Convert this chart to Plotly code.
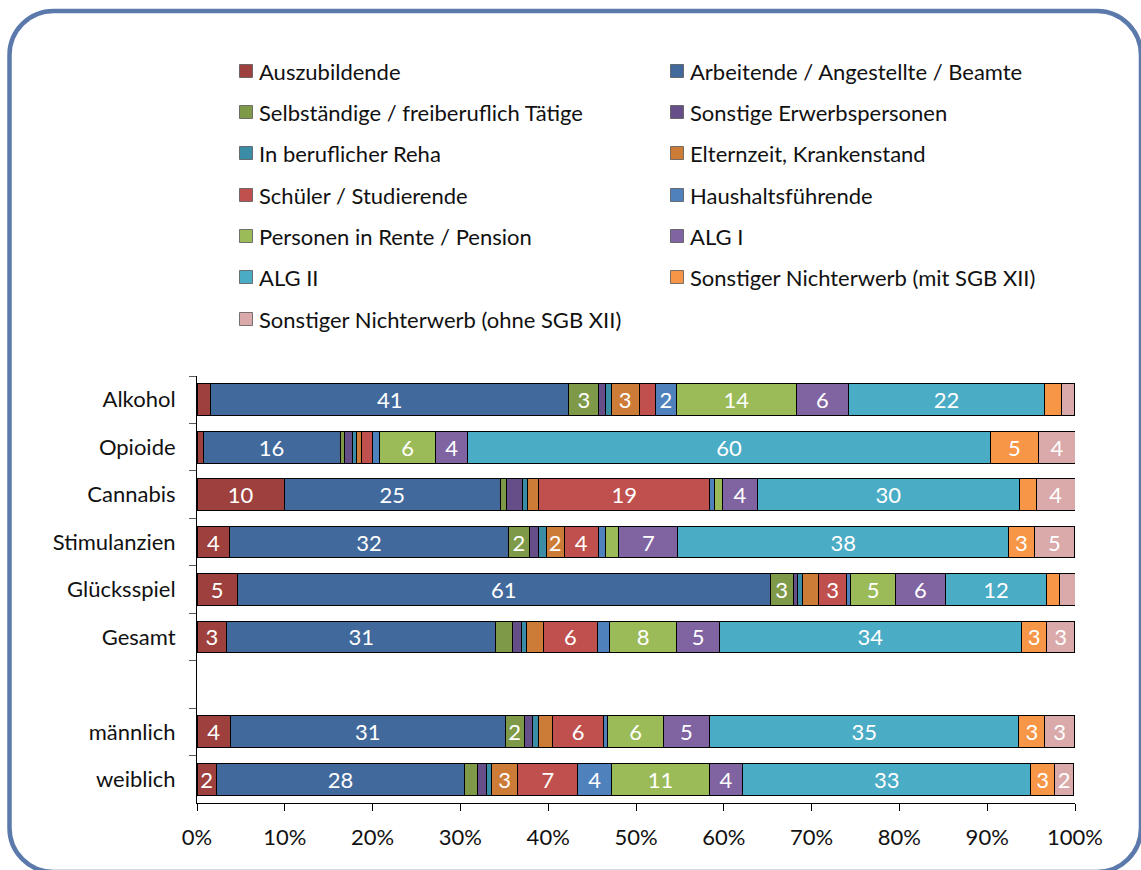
import plotly.graph_objects as go

# ---------------- data ----------------
groups = ["Alkohol", "Opioide", "Cannabis", "Stimulanzien", "Glücksspiel",
          "Gesamt", " ", "männlich", "weiblich"]

series_names = [
    "Auszubildende",
    "Arbeitende / Angestellte / Beamte",
    "Selbständige / freiberuflich Tätige",
    "Sonstige Erwerbspersonen",
    "In beruflicher Reha",
    "Elternzeit, Krankenstand",
    "Schüler / Studierende",
    "Haushaltsführende",
    "Personen in Rente / Pension",
    "ALG I",
    "ALG II",
    "Sonstiger Nichterwerb (mit SGB XII)",
    "Sonstiger Nichterwerb (ohne SGB XII)",
]

auszubildende = [1.56, 0.7, 9.95, 3.75, 4.6, 3.4, None, 3.8, 2.2]
arbeitende    = [40.8, 15.6, 24.6, 31.7, 60.7, 30.6, None, 31.3, 28.3]
selbstaendige = [3.4, 0.55, 0.7, 2.4, 2.6, 1.9, None, 2.15, 1.5]
sonst_erwerb  = [0.76, 0.85, 1.8, 1.05, 0.55, 1.05, None, 1.0, 1.0]
reha          = [0.65, 0.45, 0.55, 0.85, 0.55, 0.6, None, 0.7, 0.55]
elternzeit    = [3.2, 0.55, 1.35, 2.05, 1.8, 1.9, None, 1.5, 3.0]
schueler      = [1.85, 1.3, 19.4, 3.9, 3.2, 6.15, None, 5.9, 6.8]
haushalt      = [2.35, 0.75, 0.55, 0.85, 0.4, 1.35, None, 0.45, 3.9]
rente         = [13.7, 6.45, 0.95, 1.5, 5.2, 7.7, None, 6.3, 11.1]
alg1          = [5.9, 3.6, 4.0, 6.7, 5.6, 4.85, None, 5.3, 3.8]
alg2          = [22.4, 59.6, 29.8, 37.7, 11.6, 34.4, None, 35.2, 32.8]
ne_mit        = [1.85, 5.4, 1.95, 2.9, 1.4, 2.9, None, 2.96, 2.7]
ne_ohne       = [1.5, 4.3, 4.4, 4.6, 1.8, 3.1, None, 3.4, 2.2]

series_values = [auszubildende, arbeitende, selbstaendige, sonst_erwerb, reha,
                 elternzeit, schueler, haushalt, rente, alg1, alg2, ne_mit, ne_ohne]

x_tickvals = [0, 10, 20, 30, 40, 50, 60, 70, 80, 90, 100]
x_ticktext = ["0%", "10%", "20%", "30%", "40%", "50%", "60%", "70%", "80%",
              "90%", "100%"]

# ---------------- style ----------------
colors = ["#9E413E", "#41699C", "#7E9A48", "#664E88", "#3A8DA5", "#CD7C37",
          "#C0504D", "#4F81BD", "#9BBB59", "#8064A2", "#4BACC6", "#F79646",
          "#D9AAA9"]

FONT = "Lato"
FS = 22
W, H = 1141, 870
ML, MR, MT, MB = 197, 66, 376, 67
PW, PH = W - ML - MR, H - MT - MB


def px(x):
    return (x - ML) / PW


def py(y):
    return (H - MB - y) / PH


fig = go.Figure()
for name, vals, col in zip(series_names, series_values, colors):
    txt = [str(int(v + 0.5)) if (v is not None and v >= 2) else "" for v in vals]
    fig.add_trace(go.Bar(
        y=groups, x=vals, orientation="h", name=name,
        marker=dict(color=col, line=dict(color="black", width=1)),
        text=txt, textposition="inside", insidetextanchor="middle",
        textangle=0, textfont=dict(color="white", size=FS, family=FONT),
        showlegend=False,
    ))

shapes = []
annotations = []

# custom two-column legend
row_y = [71, 112, 153, 195, 236, 277, 319]
col_sq = [239.5, 670.5]
col_tx = [257, 688]
sq = 13
for i, (name, col) in enumerate(zip(series_names, colors)):
    r, c = divmod(i, 2)
    yc = row_y[r]
    shapes.append(dict(type="rect", xref="paper", yref="paper",
                       x0=px(col_sq[c]), x1=px(col_sq[c] + sq),
                       y0=py(yc - sq / 2), y1=py(yc + sq / 2),
                       fillcolor=col, line=dict(color="#555555", width=0.8)))
    annotations.append(dict(x=px(col_tx[c]), y=py(yc), xref="paper", yref="paper",
                            text=name, showarrow=False, xanchor="left",
                            yanchor="middle",
                            font=dict(family=FONT, size=FS, color="#111111")))

# rounded frame
x1, y1, x2, y2, rr = 9.5, 11, 1141, 872, 44
k = 0.5523 * rr


def P(x, y):
    return f"{px(x):.6f},{py(y):.6f}"


path = (f"M {P(x1 + rr, y1)} L {P(x2 - rr, y1)} "
        f"C {P(x2 - rr + k, y1)} {P(x2, y1 + rr - k)} {P(x2, y1 + rr)} "
        f"L {P(x2, y2 - rr)} "
        f"C {P(x2, y2 - rr + k)} {P(x2 - rr + k, y2)} {P(x2 - rr, y2)} "
        f"L {P(x1 + rr, y2)} "
        f"C {P(x1 + rr - k, y2)} {P(x1, y2 - rr + k)} {P(x1, y2 - rr)} "
        f"L {P(x1, y1 + rr)} "
        f"C {P(x1, y1 + rr - k)} {P(x1 + rr - k, y1)} {P(x1 + rr, y1)} Z")
shapes.append(dict(type="path", xref="paper", yref="paper", path=path,
                   line=dict(color="#5B7AAB", width=4.5), fillcolor="rgba(0,0,0,0)"))

fig.update_layout(
    barmode="stack", bargap=0.33,
    width=W, height=H,
    margin=dict(l=ML, r=MR, t=MT, b=MB, autoexpand=False),
    plot_bgcolor="white", paper_bgcolor="white",
    uniformtext=dict(minsize=FS, mode="show"),
    shapes=shapes, annotations=annotations,
    font=dict(family=FONT, size=FS, color="#111111"),
)
fig.update_yaxes(
    type="category", categoryorder="array", categoryarray=groups,
    autorange="reversed", showline=True, linecolor="black", linewidth=1,
    ticks="outside", tickson="boundaries", ticklen=7, tickcolor="#595959",
    tickfont=dict(family=FONT, size=FS, color="#111111"),
    ticklabelstandoff=16, showgrid=False, zeroline=False,
)
fig.update_xaxes(
    range=[0, 100], tickmode="array", tickvals=x_tickvals, ticktext=x_ticktext,
    showline=True, linecolor="black", linewidth=1,
    ticks="outside", ticklen=7, tickcolor="black",
    tickfont=dict(family=FONT, size=FS, color="#111111"),
    ticklabelstandoff=8, showgrid=False, zeroline=False,
)

fig.write_html(
    "out.html",
    config={"displayModeBar": False},
    post_script="document.body.style.margin='0';document.body.style.overflow='hidden';",
)
